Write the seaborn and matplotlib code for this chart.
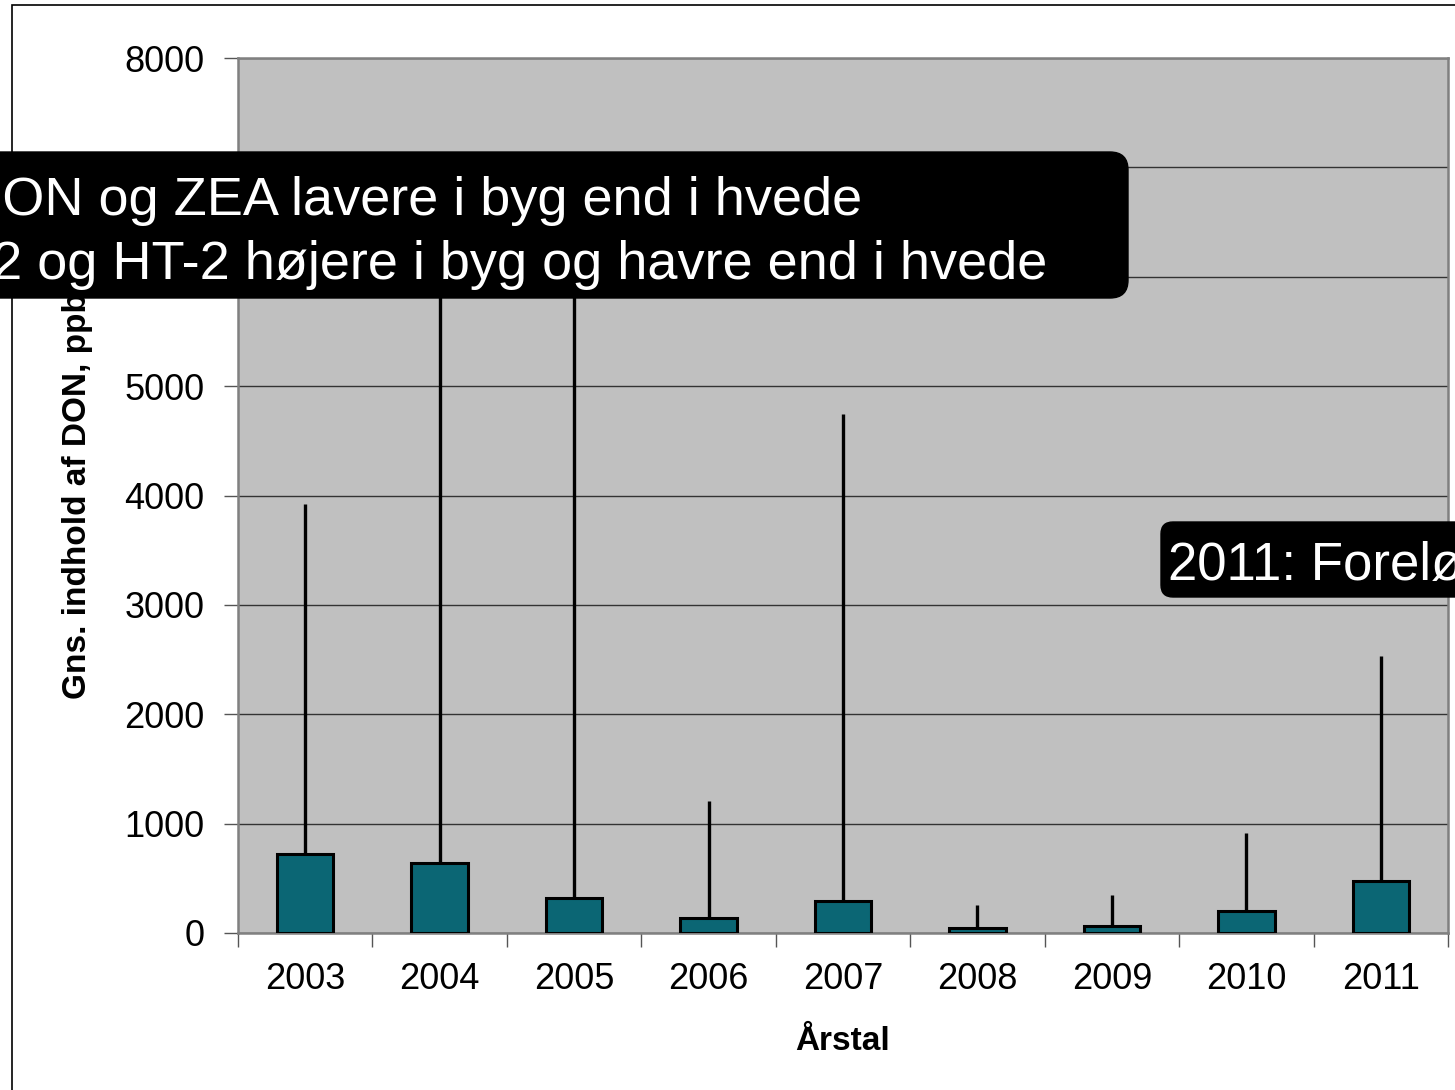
import matplotlib
matplotlib.use("Agg")
import matplotlib.pyplot as plt
from matplotlib.patches import FancyBboxPatch, Rectangle
from matplotlib.transforms import IdentityTransform
import seaborn as sns
import pandas as pd
import numpy as np

# data
years = ["2003", "2004", "2005", "2006", "2007", "2008", "2009", "2010", "2011"]
mean_don = [722, 640, 320, 137, 293, 46, 64, 201, 475]
max_don = [3922, 6400, 6300, 1207, 4745, 256, 347, 914, 2533]

note_top = ["DON og ZEA lavere i byg end i hvede",
            "T-2 og HT-2 højere i byg og havre end i hvede"]
note_2011 = "2011: Foreløbige tal"

df = pd.DataFrame({"Årstal": years, "DON": mean_don, "Max": max_don})

sns.set_theme(style="white")
plt.rcParams["font.family"] = ["Liberation Sans", "DejaVu Sans"]
plt.rcParams["axes.labelcolor"] = "black"
plt.rcParams["text.color"] = "black"

W, H = 1455, 1090
fig = plt.figure(figsize=(W / 100, H / 100), dpi=100)
ax = fig.add_axes([238 / W, 1 - 933 / H, (1448 - 238) / W, (933 - 58) / H])
ax.set_facecolor("#c0c0c0")

sns.barplot(data=df, x="Årstal", y="DON", color="#0b6674", saturation=1,
            width=0.42, edgecolor="black", linewidth=2.2, errorbar=None, ax=ax, zorder=3)

# upper error bars only
x = np.arange(len(years))
upper = np.array(max_don) - np.array(mean_don)
ax.errorbar(x, mean_don, yerr=[np.zeros(len(years)), upper], fmt="none",
            ecolor="black", elinewidth=2.4, capsize=0, zorder=2)

ax.set_ylim(0, 8000)
ax.set_xlim(-0.5, len(years) - 0.5)
ax.set_yticks(range(0, 8001, 1000))
ax.yaxis.grid(True, color="#333333", linewidth=1)
ax.set_axisbelow(True)

ax.tick_params(axis="y", which="major", length=10, width=1, color="#555555",
               left=True, labelsize=26, pad=14, labelcolor="black")
ax.tick_params(axis="x", which="major", length=0, labelsize=26, pad=21, labelcolor="black")
ax.set_xticks(np.arange(-0.5, len(years), 1), minor=True)
ax.tick_params(axis="x", which="minor", length=10, width=1, color="#555555", bottom=True)

for s in ax.spines.values():
    s.set_color("#808080")
    s.set_linewidth(1.8)

ax.set_xlabel("Årstal", fontsize=24, fontweight="bold", labelpad=21)
ax.set_ylabel("Gns. indhold af DON, ppb", fontsize=24, fontweight="bold")
ax.yaxis.set_label_coords(-0.12, 0.5)

# outer frame
fig.add_artist(Rectangle((12, -20), 2000, H - 5 + 20, transform=IdentityTransform(),
                         fill=False, edgecolor="black", linewidth=1.2))

# black callout boxes
fig.add_artist(FancyBboxPatch((-40, H - 298), 1128 + 40, 146,
                              boxstyle="round,pad=0,rounding_size=18",
                              transform=IdentityTransform(), facecolor="black",
                              edgecolor="black", zorder=10))
fig.text(-37 / W, (H - 215) / H, note_top[0], color="white", fontsize=39,
         va="baseline", ha="left", zorder=11)
fig.text(-56 / W, (H - 279) / H, note_top[1], color="white", fontsize=39,
         va="baseline", ha="left", zorder=11)

fig.add_artist(FancyBboxPatch((1161, H - 597), 400, 75,
                              boxstyle="round,pad=0,rounding_size=12",
                              transform=IdentityTransform(), facecolor="black",
                              edgecolor="black", zorder=10))
fig.text(1168 / W, (H - 580) / H, note_2011, color="white", fontsize=38,
         va="baseline", ha="left", zorder=11)

fig.savefig("out.png", dpi=100)
